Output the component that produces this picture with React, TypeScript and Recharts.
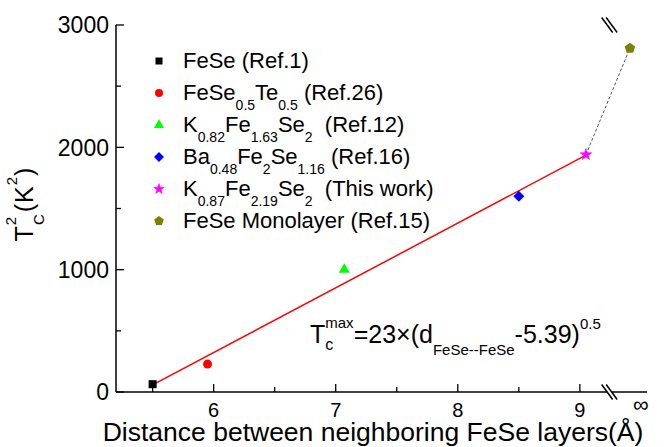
import React from 'react'
import { ScatterChart, Scatter, XAxis, YAxis, ReferenceDot, Legend, Customized } from 'recharts'

const FONT = '"Liberation Sans", Arial, Helvetica, sans-serif'

// interlayer distance d (Å) vs Tc^2 (K^2)
const feSe = [{ d: 5.5, tc2: 64 }]
const feSeTe = [{ d: 5.95, tc2: 228 }]
const k082 = [{ d: 7.07, tc2: 1000 }]
const ba048 = [{ d: 8.5, tc2: 1600 }]
const k087 = [{ d: 9.05, tc2: 1940 }]
const monolayer = [{ d: 9.41, tc2: 2810 }]

// fit Tc = 23*(d-5.39)^0.5, end points only
const fitLine = [{ d: 5.5, tc2: 58 }, { d: 9.05, tc2: 1936 }]
const guideLine = [{ d: 9.05, tc2: 1940 }, { d: 9.41, tc2: 2810 }]

const X_DOMAIN = [5.2, 9.55]
const X_TICKS = [5.5, 6, 6.5, 7, 7.5, 8, 8.5, 9, 9.5]
const X_TICK_LABELS: Record<string, string> = { '6': '6', '7': '7', '8': '8', '9': '9', '9.5': '\u221E' }
const INF_TICK = 9.5
const Y_DOMAIN = [0, 3000]
const Y_TICKS = [0, 500, 1000, 1500, 2000, 2500, 3000]
const BREAK_X = 9.24

const Sub = ({ children }: { children: React.ReactNode }) => (
  <span style={{ fontSize: 14, position: 'relative', top: 10 }}>{children}</span>
)

const SERIES = [
  { key: 'fese', data: feSe, kind: 'square', color: '#000000', size: 8,
    label: <>FeSe (Ref.1)</> },
  { key: 'fesete', data: feSeTe, kind: 'circle', color: '#ff0000', size: 9,
    label: <>FeSe<Sub>0.5</Sub>Te<Sub>0.5</Sub> (Ref.26)</> },
  { key: 'k082', data: k082, kind: 'triangle', color: '#00ff00', size: 11,
    label: <>K<Sub>0.82</Sub>Fe<Sub>1.63</Sub>Se<Sub>2</Sub>{'\u00A0 '}(Ref.12)</> },
  { key: 'ba', data: ba048, kind: 'diamond', color: '#0000ff', size: 11,
    label: <>Ba<Sub>0.48</Sub>Fe<Sub>2</Sub>Se<Sub>1.16</Sub> (Ref.16)</> },
  { key: 'k087', data: k087, kind: 'star', color: '#ff00ff', size: 12,
    label: <>K<Sub>0.87</Sub>Fe<Sub>2.19</Sub>Se<Sub>2</Sub>{'\u00A0 '}(This work)</> },
  { key: 'mono', data: monolayer, kind: 'pentagon', color: '#808000', size: 11,
    label: <>FeSe Monolayer (Ref.15)</> },
]

function polyPoints(cx: number, cy: number, n: number, rOut: number, rIn?: number) {
  const pts: string[] = []
  const count = rIn ? n * 2 : n
  for (let i = 0; i < count; i++) {
    const r = rIn && i % 2 === 1 ? rIn : rOut
    const a = -Math.PI / 2 + (i * 2 * Math.PI) / count
    pts.push(`${cx + r * Math.cos(a)},${cy + r * Math.sin(a)}`)
  }
  return pts.join(' ')
}

function marker(kind: string, color: string, cx: number, cy: number, s: number) {
  switch (kind) {
    case 'square':
      return <rect x={cx - s / 2} y={cy - s / 2} width={s} height={s} fill={color} />
    case 'circle':
      return <circle cx={cx} cy={cy} r={s / 2} fill={color} />
    case 'triangle': {
      const h = s * 0.87
      return <polygon points={`${cx},${cy - (h * 2) / 3} ${cx - s / 2},${cy + h / 3} ${cx + s / 2},${cy + h / 3}`} fill={color} />
    }
    case 'diamond':
      return <polygon points={polyPoints(cx, cy, 4, s / 2)} fill={color} />
    case 'star':
      return <polygon points={polyPoints(cx, cy, 5, s / 2, s / 5)} fill={color} stroke={color} strokeWidth={0.6} />
    case 'pentagon':
      return <polygon points={polyPoints(cx, cy, 5, s / 2)} fill={color} />
    default:
      return <g />
  }
}

const BottomTick = (props: any) => {
  const { x, y, payload } = props
  const v = payload.value
  const label = X_TICK_LABELS[String(v)]
  const isInf = v === INF_TICK
  const major = Number.isInteger(v)
  return (
    <g>
      {!isInf && <line x1={x} x2={x} y1={y} y2={y - (major ? 8 : 5)} stroke="#000" strokeWidth={1.3} />}
      {label && (
        <text x={x} y={isInf ? y + 20 : y + 25} textAnchor="middle" fontSize={isInf ? 22 : 20} fontFamily={FONT} fill="#000">
          {label}
        </text>
      )}
    </g>
  )
}

const TopTick = (props: any) => {
  const { x, y, payload } = props
  const major = Number.isInteger(payload.value)
  return <line x1={x} x2={x} y1={y} y2={y + (major ? 8 : 5)} stroke="#000" strokeWidth={1.3} />
}

const LeftTick = (props: any) => {
  const { x, y, payload } = props
  const v = payload.value
  const major = v % 1000 === 0
  return (
    <g>
      <line x1={x} x2={x + (major ? 8 : 5)} y1={y} y2={y} stroke="#000" strokeWidth={1.3} />
      {major && (
        <text x={x - 7} y={y} dy="0.36em" textAnchor="end" fontSize={23} fontFamily={FONT} fill="#000">
          {v}
        </text>
      )}
    </g>
  )
}

const RightTick = (props: any) => {
  const { x, y, payload } = props
  const major = payload.value % 1000 === 0
  return <line x1={x} x2={x - (major ? 8 : 5)} y1={y} y2={y} stroke="#000" strokeWidth={1.3} />
}

const BreakMark = (props: any) => {
  const { cx, cy } = props
  return (
    <g>
      <polygon points={`${cx - 3},${cy - 2} ${cx + 1},${cy - 2} ${cx + 3.5},${cy + 2} ${cx - 0.5},${cy + 2}`} fill="#fff" />
      <line x1={cx - 7.5} y1={cy - 7.5} x2={cx + 3.5} y2={cy + 7.5} stroke="#000" strokeWidth={1.5} />
      <line x1={cx - 3} y1={cy - 7.5} x2={cx + 8} y2={cy + 7.5} stroke="#000" strokeWidth={1.5} />
    </g>
  )
}

const LegendBox = () => (
  <div style={{ fontFamily: FONT, color: '#000' }}>
    {SERIES.map((s) => (
      <div key={s.key} style={{ display: 'flex', alignItems: 'center', height: 32 }}>
        <svg width={18} height={18} style={{ flex: 'none' }}>
          {marker(s.kind, s.color, 9, 9, s.size - 1)}
        </svg>
        <span style={{ marginLeft: 15, fontSize: 22, lineHeight: 1, whiteSpace: 'nowrap' }}>{s.label}</span>
      </div>
    ))}
  </div>
)

const Annotations = () => (
  <g fontFamily={FONT} fill="#000">
    <text transform="rotate(-90 33 204)" x={33} y={204} textAnchor="middle" fontSize={25} letterSpacing={1}>
      T<tspan fontSize={15} dy={-17}>2</tspan>
      <tspan fontSize={15} dx={-9.3} dy={28}>C</tspan>
      <tspan dx={1} dy={-11}>(K</tspan>
      <tspan fontSize={15} dy={-16}>2</tspan>
      <tspan dy={16}>)</tspan>
    </text>
    <text x={373} y={441} textAnchor="middle" fontSize={26.5}>
      Distance between neighboring FeSe layers(Å)
    </text>
    <text x={310} y={343} fontSize={25}>
      T<tspan fontSize={15} dy={-15}>max</tspan>
      <tspan fontSize={16} dx={-28.3} dy={22}>c</tspan>
      <tspan dx={20.3} dy={-7}>=23×(d</tspan>
      <tspan fontSize={15} dy={12}>FeSe--FeSe</tspan>
      <tspan dy={-12}>-5.39)</tspan>
      <tspan fontSize={15} dy={-14}>0.5</tspan>
    </text>
  </g>
)

const axisLine = { stroke: '#000', strokeWidth: 1.5 }

export default function App() {
  return (
    <div style={{ width: 665, height: 447, background: '#fff', position: 'relative' }}>
      <style>{'body { margin: 0; }'}</style>
      <ScatterChart width={665} height={447} margin={{ top: 25, right: 18, bottom: 25, left: 56 }}>
        <XAxis
          type="number"
          dataKey="d"
          domain={X_DOMAIN}
          ticks={X_TICKS}
          interval={0}
          tick={<BottomTick />}
          tickLine={false}
          tickSize={0}
          tickMargin={0}
          height={30}
          axisLine={axisLine}
          allowDataOverflow
        />
        <XAxis
          xAxisId="top"
          orientation="top"
          type="number"
          dataKey="d"
          domain={X_DOMAIN}
          ticks={X_TICKS.filter((t) => t !== INF_TICK)}
          interval={0}
          tick={<TopTick />}
          tickLine={false}
          tickSize={0}
          tickMargin={0}
          height={0}
          axisLine={axisLine}
          allowDataOverflow
        />
        <YAxis
          type="number"
          dataKey="tc2"
          domain={Y_DOMAIN}
          ticks={Y_TICKS}
          interval={0}
          tick={<LeftTick />}
          tickLine={false}
          tickSize={0}
          tickMargin={0}
          width={60}
          axisLine={axisLine}
          allowDataOverflow
        />
        <YAxis
          yAxisId="right"
          orientation="right"
          type="number"
          dataKey="tc2"
          domain={Y_DOMAIN}
          ticks={Y_TICKS}
          interval={0}
          tick={<RightTick />}
          tickLine={false}
          tickSize={0}
          tickMargin={0}
          width={0}
          axisLine={axisLine}
          allowDataOverflow
        />
        <Scatter
          data={fitLine}
          line={{ stroke: '#ff0000', strokeWidth: 1.5 }}
          shape={() => <g />}
          legendType="none"
          isAnimationActive={false}
        />
        <Scatter
          data={guideLine}
          line={{ stroke: '#555555', strokeWidth: 1, strokeDasharray: '3 2' }}
          shape={() => <g />}
          legendType="none"
          isAnimationActive={false}
        />
        {SERIES.map((s) => (
          <Scatter
            key={s.key}
            data={s.data}
            shape={(p: any) => marker(s.kind, s.color, p.cx, p.cy, s.size)}
            isAnimationActive={false}
          />
        ))}
        <ReferenceDot x={BREAK_X} y={3000} r={0} ifOverflow="visible" shape={BreakMark} />
        <ReferenceDot x={BREAK_X} y={0} r={0} ifOverflow="visible" shape={BreakMark} />
        <Customized component={Annotations} />
        <Legend
          layout="horizontal"
          verticalAlign="middle"
          align="center"
          content={<LegendBox />}
          wrapperStyle={{ left: 150, top: 45, width: 320, height: 200 }}
        />
      </ScatterChart>
    </div>
  )
}
